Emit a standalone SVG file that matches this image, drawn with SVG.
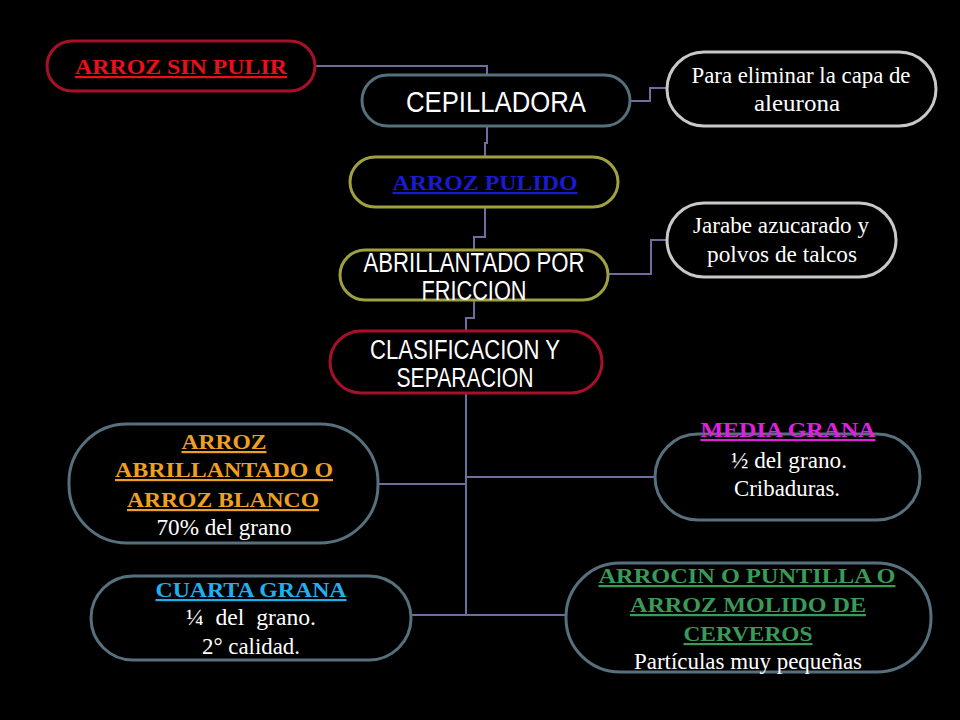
<svg xmlns="http://www.w3.org/2000/svg" width="960" height="720" viewBox="0 0 960 720">
<style>
.box{fill:#000;stroke-width:3}
.crim{stroke:#a8102a}.slate{stroke:#56707e}.olive{stroke:#a0a040}.gray{stroke:#c8c8c8}
.ser{font-family:"Liberation Serif","Times New Roman",serif;font-size:22.5px;text-anchor:middle;fill:#fff}
.hd{font-weight:bold;font-size:22px;text-decoration:underline}
.san{font-family:"Liberation Sans",Arial,sans-serif;text-anchor:middle;fill:#fff;font-size:27px}
.con path{fill:none;stroke:#6e6e9e;stroke-width:2}
</style>
<rect width="960" height="720" fill="#000"/>
<g class="con">
<path d="M315,66 H487 V75"/>
<path d="M487,126 V143 H485 V157"/>
<path d="M630,101 H650 V88 H667"/>
<path d="M485,207 V237 H474 V250"/>
<path d="M608,274 H651 V240 H667"/>
<path d="M474,300 V318 H466 V331"/>
<path d="M466,393 V615"/>
<path d="M378,484 H466"/>
<path d="M466,477 H655"/>
<path d="M411,615 H566"/>
</g>
<g id="arroz-sin-pulir">
<rect class="box crim" x="47" y="41" width="268" height="50" rx="25"/>
<text class="ser hd" x="181" y="74" style="fill:#e8101a" textLength="212" lengthAdjust="spacingAndGlyphs">ARROZ SIN PULIR</text>
</g>
<g id="cepilladora">
<rect class="box slate" x="362" y="75" width="268" height="51" rx="25.5"/>
<text class="san" x="496" y="112" font-size="30" style="font-size:30px" textLength="180" lengthAdjust="spacingAndGlyphs">CEPILLADORA</text>
</g>
<g id="para-eliminar">
<rect class="box gray" x="667" y="52" width="269" height="74" rx="37"/>
<text class="ser" x="801" y="83" textLength="219" lengthAdjust="spacingAndGlyphs">Para eliminar la capa de</text>
<text class="ser" x="797" y="111" textLength="86" lengthAdjust="spacingAndGlyphs">aleurona</text>
</g>
<g id="arroz-pulido">
<rect class="box olive" x="350" y="157" width="268" height="50" rx="25"/>
<text class="ser hd" x="485" y="190" style="fill:#1a1ad0" textLength="185" lengthAdjust="spacingAndGlyphs">ARROZ PULIDO</text>
</g>
<g id="abrillantado">
<rect class="box olive" x="340" y="250" width="268" height="50" rx="25"/>
<text class="san" x="474" y="272" textLength="221" lengthAdjust="spacingAndGlyphs">ABRILLANTADO POR</text>
<text class="san" x="474" y="300" textLength="105" lengthAdjust="spacingAndGlyphs">FRICCION</text>
</g>
<g id="jarabe">
<rect class="box gray" x="667" y="203" width="229" height="74" rx="37"/>
<text class="ser" x="781" y="233" textLength="176" lengthAdjust="spacingAndGlyphs">Jarabe azucarado y</text>
<text class="ser" x="782" y="262" textLength="150" lengthAdjust="spacingAndGlyphs">polvos de talcos</text>
</g>
<g id="clasificacion">
<rect class="box crim" x="330" y="331" width="272" height="62" rx="31"/>
<text class="san" x="465" y="359" textLength="190" lengthAdjust="spacingAndGlyphs">CLASIFICACION Y</text>
<text class="san" x="465" y="387" textLength="137" lengthAdjust="spacingAndGlyphs">SEPARACION</text>
</g>
<g id="arroz-blanco">
<rect class="box slate" x="69" y="424" width="309" height="119" rx="58"/>
<text class="ser hd" x="224" y="449" style="fill:#f0a020" textLength="85" lengthAdjust="spacingAndGlyphs">ARROZ</text>
<text class="ser hd" x="224" y="477" style="fill:#f0a020" textLength="218" lengthAdjust="spacingAndGlyphs">ABRILLANTADO O</text>
<text class="ser hd" x="223" y="507" style="fill:#f0a020" textLength="192" lengthAdjust="spacingAndGlyphs">ARROZ BLANCO</text>
<text class="ser" x="224" y="535" textLength="135" lengthAdjust="spacingAndGlyphs">70% del grano</text>
</g>
<g id="media-grana">
<rect class="box slate" x="655" y="434" width="265" height="86" rx="43"/>
<text class="ser hd" x="788" y="437" style="fill:#e020e0" textLength="175" lengthAdjust="spacingAndGlyphs">MEDIA GRANA</text>
<text class="ser" x="789" y="468" textLength="116" lengthAdjust="spacingAndGlyphs">½ del grano.</text>
<text class="ser" x="787" y="496" textLength="106" lengthAdjust="spacingAndGlyphs">Cribaduras.</text>
</g>
<g id="cuarta-grana">
<rect class="box slate" x="91" y="576" width="320" height="84" rx="42"/>
<text class="ser hd" x="251" y="597" style="fill:#20b0f0" textLength="191" lengthAdjust="spacingAndGlyphs">CUARTA GRANA</text>
<text class="ser" x="251" y="625" textLength="130" lengthAdjust="spacingAndGlyphs" xml:space="preserve">¼  del  grano.</text>
<text class="ser" x="251" y="654" textLength="98" lengthAdjust="spacingAndGlyphs">2° calidad.</text>
</g>
<g id="arrocin">
<rect class="box slate" x="566" y="563" width="365" height="109" rx="54"/>
<text class="ser hd" x="747" y="583" style="fill:#3a9a5a" textLength="297" lengthAdjust="spacingAndGlyphs">ARROCIN O PUNTILLA O</text>
<text class="ser hd" x="748" y="612" style="fill:#3a9a5a" textLength="236" lengthAdjust="spacingAndGlyphs">ARROZ MOLIDO DE</text>
<text class="ser hd" x="748" y="641" style="fill:#3a9a5a" textLength="129" lengthAdjust="spacingAndGlyphs">CERVEROS</text>
<text class="ser" x="748" y="669" textLength="228" lengthAdjust="spacingAndGlyphs">Partículas muy pequeñas</text>
</g>
</svg>
